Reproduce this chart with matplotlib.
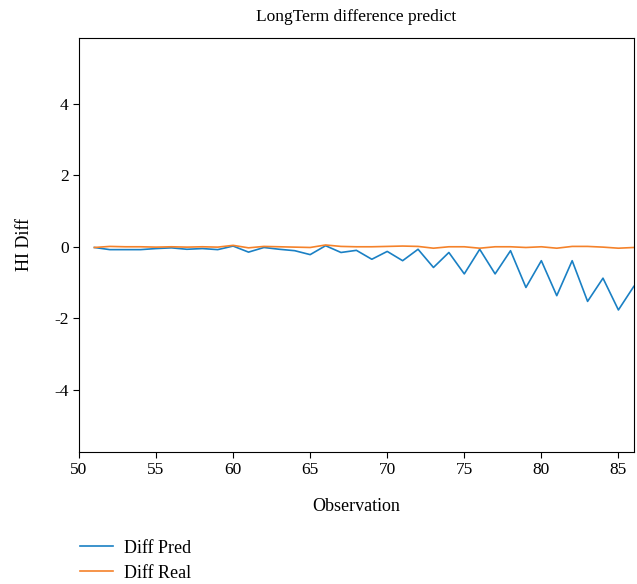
import matplotlib.pyplot as plt

plt.rcParams['font.family'] = ['Liberation Serif', 'DejaVu Serif']

# Observation index
obs = list(range(51, 87))

# Predicted difference
diff_pred = [-0.02, -0.08, -0.08, -0.08, -0.05, -0.03, -0.07, -0.05, -0.08, 0.02,
             -0.15, -0.02, -0.07, -0.11, -0.22, 0.03, -0.16, -0.10, -0.35, -0.13,
             -0.39, -0.07, -0.58, -0.16, -0.76, -0.07, -0.76, -0.11, -1.14, -0.39,
             -1.37, -0.39, -1.53, -0.88, -1.77, -1.11]

# Real difference
diff_real = [-0.02, 0.01, 0.0, 0.0, -0.01, 0.0, -0.01, 0.0, -0.01, 0.04,
             -0.03, 0.01, 0.0, -0.01, -0.02, 0.05, 0.01, 0.0, 0.0, 0.01,
             0.02, 0.01, -0.04, 0.0, 0.0, -0.04, 0.0, 0.0, -0.02, 0.0,
             -0.04, 0.01, 0.01, -0.01, -0.04, -0.02]

fig = plt.figure(figsize=(6.37, 5.84), dpi=100)
ax = fig.add_axes([0.124, 0.226, 0.871, 0.709])

ax.plot(obs, diff_pred, color='#1a80c4', lw=1.2, label='Diff Pred')
ax.plot(obs, diff_real, color='#f5822a', lw=1.2, label='Diff Real')

ax.set_xlim(50, 86)
ax.set_ylim(-5.75, 5.85)
ax.set_xticks([50, 55, 60, 65, 70, 75, 80, 85])
ax.set_yticks([-4, -2, 0, 2, 4])
ax.set_yticklabels(['-4', '-2', '0', '2', '4'])
ax.tick_params(labelsize=12.5, length=4)

ax.set_title('LongTerm difference predict', fontsize=12.5, pad=12)
ax.set_xlabel('Observation', fontsize=13, labelpad=14)
ax.set_ylabel('HI Diff', fontsize=13, labelpad=15)

fig.legend(loc='upper left', bbox_to_anchor=(0.10, 0.104), frameon=False,
           fontsize=13, handlelength=1.85, handletextpad=0.58, labelspacing=0.45)

plt.savefig('out.png', dpi=100)
